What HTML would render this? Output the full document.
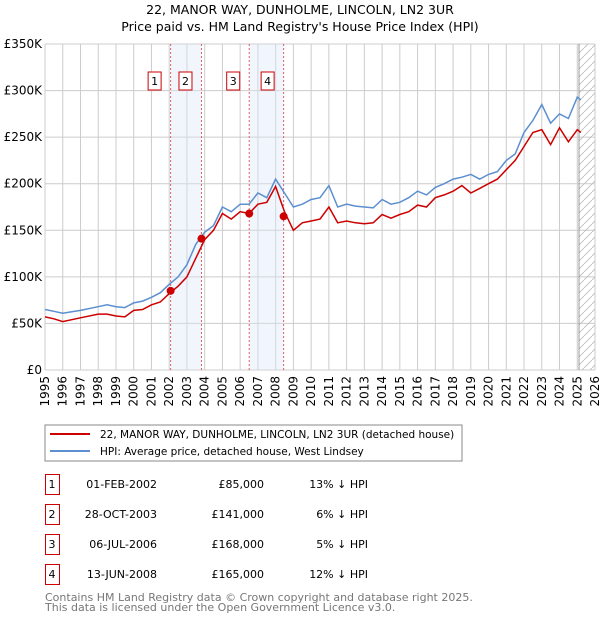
<!DOCTYPE html>
<html><head><meta charset="utf-8"><style>
body{margin:0;background:#fff;font-family:"DejaVu Sans","Liberation Sans",sans-serif;}
svg text{font-family:"DejaVu Sans","Liberation Sans",sans-serif;}
</style></head><body>
<svg id="c" width="600" height="620" xmlns="http://www.w3.org/2000/svg">
<defs><pattern id="hatch" width="8" height="8" patternUnits="userSpaceOnUse"><path d="M0,8 L8,0" stroke="#bbb" stroke-width="0.8"/></pattern></defs>
<text x="300" y="14" text-anchor="middle" font-size="12.5">22, MANOR WAY, DUNHOLME, LINCOLN, LN2 3UR</text>
<text x="300" y="31" text-anchor="middle" font-size="12.5">Price paid vs. HM Land Registry's House Price Index (HPI)</text>
<g id="grid"></g><g id="bands"></g><g id="lines"></g><g id="axes"></g>
<rect x="45" y="425" width="417" height="36" fill="#fff" stroke="#888"/>
<line x1="50" y1="434" x2="90" y2="434" stroke="#cc0000" stroke-width="2"/>
<text x="100" y="438" font-size="10.5">22, MANOR WAY, DUNHOLME, LINCOLN, LN2 3UR (detached house)</text>
<line x1="50" y1="451" x2="90" y2="451" stroke="#5b8fd0" stroke-width="2"/>
<text x="100" y="455" font-size="10.5">HPI: Average price, detached house, West Lindsey</text>
<g id="table"></g>
<text x="45" y="601" font-size="11" fill="#777">Contains HM Land Registry data © Crown copyright and database right 2025.</text>
<text x="45" y="611" font-size="11" fill="#777">This data is licensed under the Open Government Licence v3.0.</text>
</svg>
<script>
const hpiYears=[1995,1995.5,1996,1997,1998,1998.5,1999,1999.5,2000,2000.5,2001,2001.5,2002,2002.5,2003,2003.5,2004,2004.5,2005,2005.5,2006,2006.5,2007,2007.5,2008,2008.5,2009,2009.5,2010,2010.5,2011,2011.5,2012,2012.5,2013,2013.5,2014,2014.5,2015,2015.5,2016,2016.5,2017,2017.5,2018,2018.5,2019,2019.5,2020,2020.5,2021,2021.5,2022,2022.5,2023,2023.5,2024,2024.5,2025,2025.2];
const hpiValues=[65,63,61,64,68,70,68,67,72,74,78,83,92,100,113,135,148,155,175,170,178,178,190,185,205,190,175,178,183,185,198,175,178,176,175,174,183,178,180,185,192,188,196,200,205,207,210,205,210,213,225,232,255,268,285,265,275,270,293,290];
const redValues=[57,55,52,56,60,60,58,57,64,65,70,73,82,90,100,120,140,150,168,162,170,168,178,180,197,170,150,158,160,162,175,158,160,158,157,158,167,163,167,170,177,175,185,188,192,198,190,195,200,205,215,225,240,255,258,242,260,245,258,255];
const saleDates=[2002.08,2003.82,2006.51,2008.45];
const salePrices=[85,141,168,165];
const saleLabels=["1","2","3","4"];
const saleDateText=["01-FEB-2002","28-OCT-2003","06-JUL-2006","13-JUN-2008"];
const salePriceText=["£85,000","£141,000","£168,000","£165,000"];
const saleDiffText=["13% ↓ HPI","6% ↓ HPI","5% ↓ HPI","12% ↓ HPI"];
const yTicks=[0,50,100,150,200,250,300,350];
const yTickLabels=["£0","£50K","£100K","£150K","£200K","£250K","£300K","£350K"];
const NS="http://www.w3.org/2000/svg";
const L=45,R=595,T=44,B=370,Y0=1995,Y1=2026;
const X=y=>L+(y-Y0)/(Y1-Y0)*(R-L);
const Yv=v=>B-v/350*(B-T);
function mk(p,tag,a){const e=document.createElementNS(NS,tag);for(const k in a)e.setAttribute(k,a[k]);document.getElementById(p).appendChild(e);return e;}
for(let y=Y0;y<=Y1;y++){const e=mk('grid','line',{x1:X(y),x2:X(y),y1:T,y2:B,stroke:'#ccc'});


const t=mk('axes','text',{x:0,y:0,'font-size':12,'text-anchor':'end',transform:`translate(${X(y)+4},${B+6}) rotate(-90)`});t.textContent=y;

}
yTicks.forEach((v,i)=>{const e=mk('grid','line',{x1:L,x2:R,y1:Yv(v),y2:Yv(v),stroke:'#ccc'});


const t=mk('axes','text',{x:L-3,y:Yv(v)+4,'font-size':12,'text-anchor':'end'});t.textContent=yTickLabels[i];

});
const h=mk('bands','rect',{x:X(2025.1),y:T,width:R-X(2025.1),height:B-T,fill:'url(#hatch)'});


mk('bands','line',{x1:X(2025.1),x2:X(2025.1),y1:T,y2:B,stroke:'#999'});
[[0,1],[2,3]].forEach(([a,b])=>{const r=mk('bands','rect',{x:X(saleDates[a]),y:T,width:X(saleDates[b])-X(saleDates[a]),height:B-T,fill:'#dde6f8','fill-opacity':0.4});

});
saleDates.forEach((d,i)=>{const l=mk('bands','line',{x1:X(d),x2:X(d),y1:T,y2:B,stroke:'#e06060','stroke-dasharray':'2,2'});

});
function pts(vals){return hpiYears.map((y,i)=>X(y).toFixed(1)+','+Yv(vals[i]).toFixed(1)).join(' ');}
const hl=mk('lines','polyline',{points:pts(hpiValues),fill:'none',stroke:'#5b8fd0','stroke-width':1.5});


const rl=mk('lines','polyline',{points:pts(redValues),fill:'none',stroke:'#cc0000','stroke-width':1.5});


saleDates.forEach((d,i)=>{const c=mk('lines','circle',{cx:X(d),cy:Yv(salePrices[i]),r:4,fill:'#cc0000'});


const bx=X(d)-16;const r=mk('lines','rect',{x:bx-6.5,y:72,width:13,height:18,fill:'#fff',stroke:'#cc0000'});


const t=mk('lines','text',{x:bx,y:85,'font-size':11,'text-anchor':'middle'});t.textContent=saleLabels[i];

});
saleLabels.forEach((s,i)=>{const cy=484+i*30;
const r=mk('table','rect',{x:45.5,y:cy-9.5,width:14,height:20,fill:'#fff',stroke:'#cc0000'});


const cols=[[52,s,'middle'],[157,saleDateText[i],'end'],[264,salePriceText[i],'end'],[368,saleDiffText[i],'end']];
cols.forEach(([x,txt,an])=>{const t=mk('table','text',{x:x,y:cy+4,'font-size':11,'text-anchor':an});t.textContent=txt;

});});
</script>
</body></html>
